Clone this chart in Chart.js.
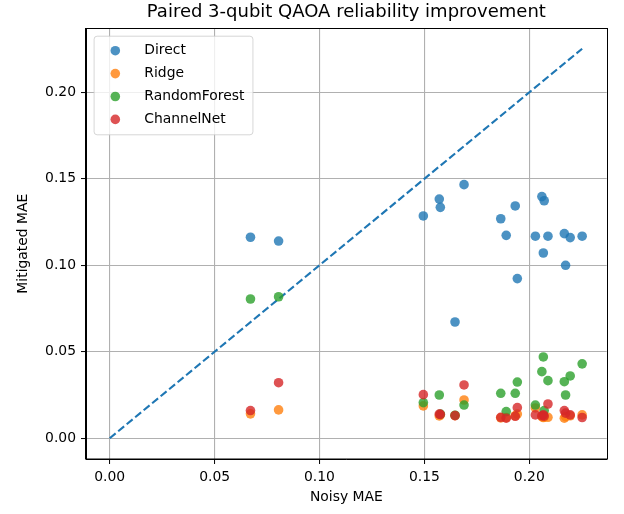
<!DOCTYPE html>
<html>
<head>
<meta charset="utf-8">
<script src="https://cdn.jsdelivr.net/npm/chart.js@4.4.1/dist/chart.umd.min.js"></script>
<style>
  html, body { margin: 0; padding: 0; background: #fff; }
  #wrap { width: 624px; height: 514px; }
</style>
</head>
<body>
<div id="wrap"><canvas id="chart"></canvas></div>
<script>
// values
const noisyMae   = [0.0671, 0.0805, 0.1495, 0.1571, 0.1576, 0.1646, 0.1689, 0.1864, 0.1890, 0.1933,
                    0.1943, 0.2029, 0.2060, 0.2067, 0.2071, 0.2089, 0.2167, 0.2173, 0.2195, 0.2252];
const directMae  = [0.1162, 0.1140, 0.1285, 0.1383, 0.1335, 0.0672, 0.1466, 0.1269, 0.1173, 0.1343,
                    0.0923, 0.1168, 0.1397, 0.1071, 0.1373, 0.1168, 0.1183, 0.1000, 0.1160, 0.1168];
const ridgeMae   = [0.0141, 0.0164, 0.0187, 0.0129, 0.0135, 0.0131, 0.0221, 0.0118, 0.0120, 0.0130,
                    0.0140, 0.0175, 0.0125, 0.0120, 0.0122, 0.0121, 0.0116, 0.0125, 0.0130, 0.0135];
const forestMae  = [0.0805, 0.0818, 0.0206, 0.0250, 0.0140, 0.0133, 0.0192, 0.0260, 0.0154, 0.0260,
                    0.0325, 0.0192, 0.0385, 0.0470, 0.0160, 0.0333, 0.0327, 0.0250, 0.0360, 0.0430];
const channelMae = [0.0160, 0.0321, 0.0252, 0.0140, 0.0138, 0.0131, 0.0308, 0.0121, 0.0116, 0.0127,
                    0.0177, 0.0135, 0.0130, 0.0135, 0.0128, 0.0198, 0.0160, 0.0145, 0.0135, 0.0120];

const seriesNames = ['Direct', 'Ridge', 'RandomForest', 'ChannelNet'];
const xTicks = [0, 0.05, 0.10, 0.15, 0.20];
const yTicks = [0, 0.05, 0.10, 0.15, 0.20];

const colors = ['rgba(31,119,180,0.8)', 'rgba(255,127,14,0.8)', 'rgba(44,160,44,0.8)', 'rgba(214,39,40,0.8)'];
const FONT = 'DejaVu Sans';

const pairs = ys => noisyMae.map((x, i) => ({ x, y: ys[i] }));
const diagMax = Math.max(...noisyMae);

const scatterSets = [directMae, ridgeMae, forestMae, channelMae].map((ys, i) => ({
    type: 'scatter',
    label: seriesNames[i],
    data: pairs(ys),
    backgroundColor: colors[i],
    borderWidth: 0,
    pointRadius: 4.8,
    order: 4 - i
}));

// matplotlib-like legend inside the axes, upper left
const boxLegend = {
    id: 'boxLegend',
    afterDatasetsDraw(chart) {
        const { ctx, chartArea } = chart;
        ctx.save();
        ctx.font = '13.9px "' + FONT + '"';
        const maxW = Math.max(...seriesNames.map(s => ctx.measureText(s).width));
        const x0 = chartArea.left + 7.6, y0 = chartArea.top + 7.4;
        const w = 50.7 + maxW + 8, h = 98.6;
        ctx.beginPath();
        ctx.roundRect(x0 + 0.5, y0 + 0.5, w, h, 3);
        ctx.fillStyle = 'rgba(255,255,255,0.8)';
        ctx.fill();
        ctx.strokeStyle = 'rgba(204,204,204,0.8)';
        ctx.lineWidth = 1;
        ctx.stroke();
        seriesNames.forEach((name, i) => {
            const cy = y0 + 15 + i * 22.9;
            ctx.beginPath();
            ctx.arc(x0 + 21.7, cy, 4.8, 0, Math.PI * 2);
            ctx.fillStyle = colors[i];
            ctx.fill();
            ctx.fillStyle = '#000';
            ctx.textBaseline = 'middle';
            ctx.textAlign = 'left';
            ctx.fillText(name, x0 + 50.7, cy);
        });
        ctx.restore();
    },
    afterDraw(chart) {
        const { ctx, chartArea: a } = chart;
        ctx.save();
        ctx.strokeStyle = '#000';
        ctx.lineWidth = 1;
        ctx.strokeRect(Math.round(a.left) - 0.5, Math.round(a.top) + 0.5,
                       Math.round(a.right - a.left) + 1, Math.round(a.bottom - a.top) - 0.5);
        ctx.restore();
    },
    afterLayout(chart) {
        // centre the title over the axes like matplotlib does
        if (chart.titleBlock) {
            chart.titleBlock.left = chart.chartArea.left;
            chart.titleBlock.right = chart.chartArea.right;
        }
    }
};

new Chart(document.getElementById('chart'), {
    type: 'scatter',
    data: {
        datasets: [
            ...scatterSets,
            {
                type: 'line',
                label: 'diag',
                data: [{ x: 0, y: 0 }, { x: diagMax, y: diagMax }],
                borderColor: '#1f77b4',
                borderWidth: 2.1,
                borderDash: [7.7, 3.3],
                pointRadius: 0,
                fill: false,
                order: 5
            }
        ]
    },
    options: {
        responsive: true,
        maintainAspectRatio: false,
        animation: false,
        events: [],
        layout: { padding: { left: 0, top: 0, right: 17.3, bottom: 0 } },
        plugins: {
            legend: { display: false },
            tooltip: { enabled: false },
            title: {
                display: true,
                text: 'Paired 3-qubit QAOA reliability improvement',
                color: '#000',
                font: { family: FONT, size: 18, weight: 'normal' },
                padding: { top: 2, bottom: 4.7 }
            }
        },
        scales: {
            x: {
                type: 'linear',
                min: -0.0113, max: 0.2369,
                afterBuildTicks: s => { s.ticks = xTicks.map(v => ({ value: v })); },
                afterFit: s => { s.height = 55; },
                ticks: {
                    color: '#000', padding: 5, maxRotation: 0,
                    font: { family: FONT, size: 13.9 },
                    callback: v => v.toFixed(2)
                },
                grid: { color: '#b0b0b0', lineWidth: 1.1, tickColor: '#000', tickLength: 5, tickWidth: 1 },
                border: { color: '#000', width: 1 },
                title: {
                    display: true, text: 'Noisy MAE', color: '#000',
                    font: { family: FONT, size: 13.9 },
                    padding: { top: 0, bottom: 8.6 }
                }
            },
            y: {
                type: 'linear',
                min: -0.0120, max: 0.2370,
                afterBuildTicks: s => { s.ticks = yTicks.map(v => ({ value: v })); },
                afterFit: s => { s.width = 86; },
                ticks: {
                    color: '#000', padding: 5,
                    font: { family: FONT, size: 13.9 },
                    callback: v => v.toFixed(2)
                },
                grid: { color: '#b0b0b0', lineWidth: 1.1, tickColor: '#000', tickLength: 5, tickWidth: 1 },
                border: { color: '#000', width: 1 },
                title: {
                    display: true, text: 'Mitigated MAE', color: '#000',
                    font: { family: FONT, size: 13.9 },
                    padding: { top: 15, bottom: 0 }
                }
            }
        }
    },
    plugins: [boxLegend]
});
</script>
</body>
</html>
